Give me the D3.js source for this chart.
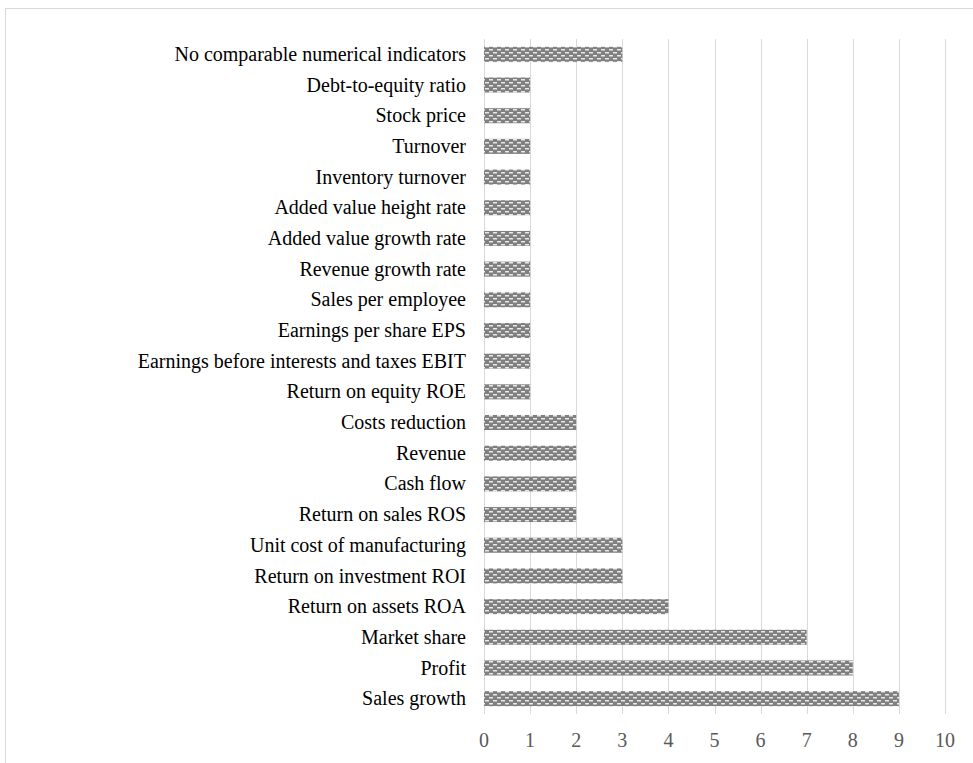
<!DOCTYPE html>
<html><head><meta charset="utf-8">
<script src="https://cdn.jsdelivr.net/npm/d3@7"></script>
<style>body{margin:0;background:#fff;}svg{display:block;}</style>
</head><body>
<svg id="c" width="973" height="763"></svg>
<script>
const categories = [
  "No comparable numerical indicators","Debt-to-equity ratio","Stock price","Turnover",
  "Inventory turnover","Added value height rate","Added value growth rate","Revenue growth rate",
  "Sales per employee","Earnings per share EPS","Earnings before interests and taxes EBIT",
  "Return on equity ROE","Costs reduction","Revenue","Cash flow","Return on sales ROS",
  "Unit cost of manufacturing","Return on investment ROI","Return on assets ROA",
  "Market share","Profit","Sales growth"];
const values = [3,1,1,1,1,1,1,1,1,1,1,1,2,2,2,2,3,3,4,7,8,9];
const xTicks = [0,1,2,3,4,5,6,7,8,9,10];

const svg = d3.select("#c");
svg.append("rect").attr("x",5.5).attr("y",8.5).attr("width",980).attr("height",800)
  .attr("fill","#fff").attr("stroke","#d9d9d9").attr("stroke-width",1);

const defs = svg.append("defs");
const pat = defs.append("pattern").attr("id","pt").attr("patternUnits","userSpaceOnUse")
  .attr("width",8).attr("height",6);
pat.append("rect").attr("width",8).attr("height",6).attr("fill","#808080");
pat.append("rect").attr("x",1).attr("y",1).attr("width",4).attr("height",1.5).attr("fill","#e8e8e8");
pat.append("rect").attr("x",5).attr("y",4).attr("width",4).attr("height",1.5).attr("fill","#e8e8e8");
pat.append("rect").attr("x",-3).attr("y",4).attr("width",4).attr("height",1.5).attr("fill","#e8e8e8");

const x = d3.scaleLinear().domain([0,10]).range([484,945]);
const y = d3.scaleBand().domain(categories).range([39,714]).paddingInner(0.51).paddingOuter(0.255);

svg.append("g").selectAll("line").data(xTicks).join("line")
  .attr("x1",d=>Math.round(x(d))+0.5).attr("x2",d=>Math.round(x(d))+0.5)
  .attr("y1",39).attr("y2",714).attr("stroke","#d9d9d9").attr("stroke-width",1);

svg.append("g").selectAll("rect").data(categories).join("rect")
  .attr("x",x(0)).attr("y",d=>y(d))
  .attr("width",(d,i)=>x(values[i])-x(0)).attr("height",y.bandwidth())
  .attr("fill","url(#pt)");

svg.append("g").selectAll("text").data(categories).join("text")
  .attr("x",466).attr("y",d=>y(d)+y.bandwidth()/2).attr("dy","0.33em")
  .attr("text-anchor","end").attr("font-family","Liberation Serif, Times New Roman, serif")
  .attr("font-size",20).attr("fill","#000").text(d=>d);

svg.append("g").selectAll("text").data(xTicks).join("text")
  .attr("x",d=>x(d)).attr("y",740).attr("dy","0.33em")
  .attr("text-anchor","middle").attr("font-family","Liberation Serif, Times New Roman, serif")
  .attr("font-size",20).attr("fill","#595959").text(d=>d);
</script>
</body></html>
